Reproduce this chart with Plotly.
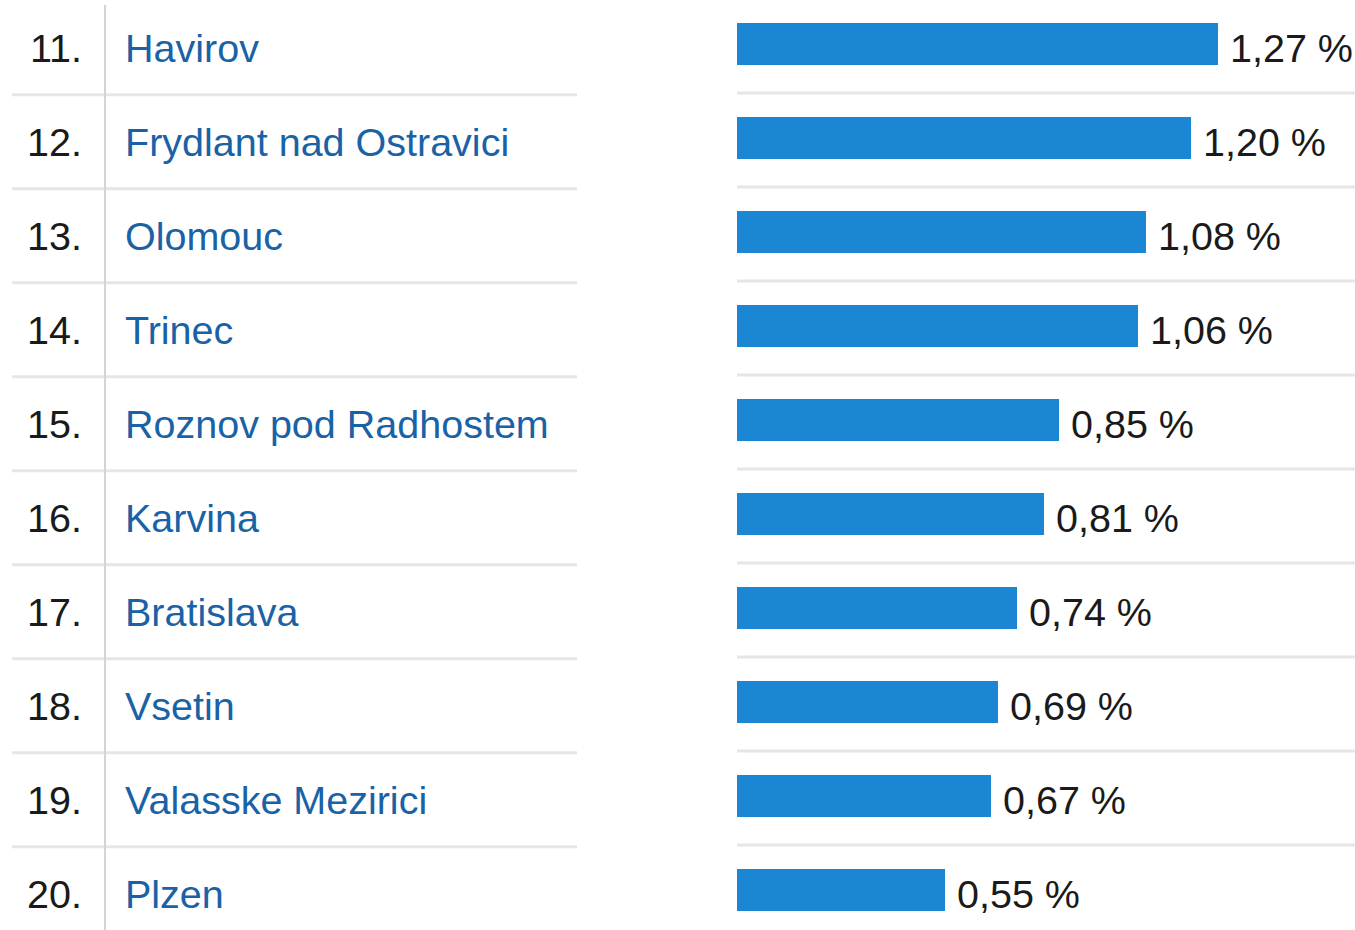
import plotly.graph_objects as go

ranks = ["11.", "12.", "13.", "14.", "15.", "16.", "17.", "18.", "19.", "20."]
cities = ["Havirov", "Frydlant nad Ostravici", "Olomouc", "Trinec",
          "Roznov pod Radhostem", "Karvina", "Bratislava", "Vsetin",
          "Valasske Mezirici", "Plzen"]
values = [1.27, 1.20, 1.08, 1.06, 0.85, 0.81, 0.74, 0.69, 0.67, 0.55]

W, H = 1355, 930
FONT = "Arial, 'Liberation Sans', sans-serif"
FSIZE = 39.5
BAR_COLOR = "#1b87d4"
NAME_COLOR = "#1a62a6"
TEXT_COLOR = "#1a1a1a"
SEP_COLOR = "#e6e6e6"

BAR_X0 = 737          # pixel where bars start
PX_PER_UNIT = 378.7   # bar length scale
ROW0 = 44             # centre of first row (px from top)
ROW_H = 94            # row pitch

rows = list(range(len(values)))

fig = go.Figure()
fig.add_trace(go.Bar(
    x=values, y=rows, orientation="h",
    marker=dict(color=BAR_COLOR, line=dict(width=0)),
    width=0.44, hoverinfo="skip", showlegend=False,
))

annotations = []
for i, (r, c, v) in enumerate(zip(ranks, cities, values)):
    annotations.append(dict(x=84 / W, y=i, xref="paper", yref="y", text=r,
                            xanchor="right", yanchor="middle", showarrow=False,
                            yshift=-4,
                            font=dict(family=FONT, size=FSIZE, color=TEXT_COLOR)))
    annotations.append(dict(x=123 / W, y=i, xref="paper", yref="y", text=c,
                            xanchor="left", yanchor="middle", showarrow=False,
                            yshift=-4,
                            font=dict(family=FONT, size=FSIZE, color=NAME_COLOR)))
    label = f"{v:.2f}".replace(".", ",") + " %"
    annotations.append(dict(x=v, y=i, xref="x", yref="y", text=label,
                            xanchor="left", yanchor="middle", showarrow=False,
                            xshift=10, yshift=-4,
                            font=dict(family=FONT, size=FSIZE, color=TEXT_COLOR)))

shapes = []
for i in rows[:-1]:
    yv = i + 0.54
    shapes.append(dict(type="line", xref="paper", yref="y",
                       x0=12 / W, x1=577 / W, y0=yv, y1=yv,
                       line=dict(color=SEP_COLOR, width=3)))
    shapes.append(dict(type="line", xref="paper", yref="y",
                       x0=BAR_X0 / W, x1=1, y0=yv - 0.02, y1=yv - 0.02,
                       line=dict(color=SEP_COLOR, width=3)))
shapes.append(dict(type="line", xref="paper", yref="paper",
                   x0=105 / W, x1=105 / W, y0=0, y1=(H - 5) / H,
                   line=dict(color="#d4d4d4", width=2)))

fig.update_layout(
    width=W, height=H,
    margin=dict(l=0, r=0, t=0, b=0, pad=0),
    paper_bgcolor="white", plot_bgcolor="white",
    xaxis=dict(domain=[BAR_X0 / W, 1], range=[0, (W - BAR_X0) / PX_PER_UNIT],
               visible=False, fixedrange=True),
    yaxis=dict(domain=[0, 1], range=[(H - ROW0) / ROW_H, -ROW0 / ROW_H],
               visible=False, fixedrange=True),
    annotations=annotations,
    shapes=shapes,
    bargap=0,
)

fig.write_html("out.html", config={"displayModeBar": False},
               post_script="document.body.style.margin='0';")
